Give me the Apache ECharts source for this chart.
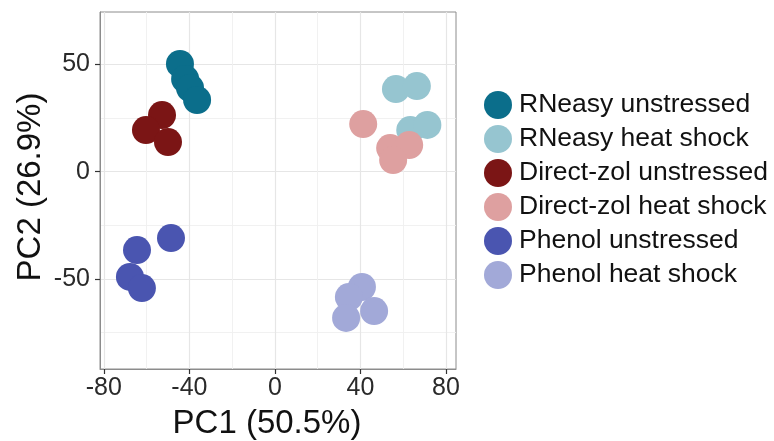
<!DOCTYPE html>
<html><head><meta charset="utf-8">
<script src="https://cdn.jsdelivr.net/npm/echarts@6/dist/echarts.min.js"></script>
<style>html,body{margin:0;padding:0;background:#fff}#c{width:774px;height:441px}</style>
</head><body><div id="c"></div>
<script>
const seriesNames = ["RNeasy unstressed","RNeasy heat shock","Direct-zol unstressed","Direct-zol heat shock","Phenol unstressed","Phenol heat shock"];
const seriesColors = ["#0b6e8b","#96c5d0","#7b1515","#dea0a0","#4a55b0","#a2a9d8"];
const rneasyUnstressed = [[-44.4,50.2],[-42.0,43.2],[-39.7,39.0],[-36.4,33.4]];
const rneasyHeat = [[56.6,38.5],[66.4,39.9],[63.3,19.4],[71.3,21.8]];
const directzolUnstressed = [[-52.8,26.4],[-60.3,19.4],[-50.0,13.8]];
const directzolHeat = [[41.3,22.2],[53.9,11.0],[62.8,12.4],[55.3,5.4]];
const phenolUnstressed = [[-48.6,-30.9],[-64.5,-36.5],[-67.8,-49.0],[-62.2,-54.2]];
const phenolHeat = [[40.7,-53.7],[34.6,-58.4],[46.4,-64.9],[33.3,-68.1]];
const xTicks = [-80,-40,0,40,80];
const xMinor = [-60,-20,20,60];
const yTicks = [-50,0,50];
const yMinor = [-75,-25,25];
const xRange = [-81.8,84.7];
const yRange = [-91.9,74.4];
const xTitle = "PC1 (50.5%)";
const yTitle = "PC2 (26.9%)";

const allData = [rneasyUnstressed,rneasyHeat,directzolUnstressed,directzolHeat,phenolUnstressed,phenolHeat];
const chart = echarts.init(document.getElementById('c'));
const font = "'Liberation Sans', Arial, Helvetica, sans-serif";
const grid = {left:100, top:12, width:356, height:357, show:true, borderColor:'#8c8c8c', borderWidth:1, backgroundColor:'#fff'};
function mainAxis(range, ticks, isX){
  return {
    type:'value', min:range[0], max:range[1], gridIndex:0,
    axisLine:{show:true, onZero:false, lineStyle:{color:'#8c8c8c', width:1}},
    axisTick:{show:true, inside:false, customValues:ticks, length:5, lineStyle:{color:'#333', width:1.2}},
    axisLabel:{show:true, customValues:ticks, fontSize:25, color:'#2a2a2a', fontFamily:font, margin: isX?7:10, lineHeight:25},
    splitLine:{show:true, lineStyle:{color:'#e6e6e6', width:1.2}},
    minorSplitLine:{show:false}
  };
}
function minorAxis(range, ticks){
  return {
    type:'value', min:range[0], max:range[1], gridIndex:0,
    axisLine:{show:false, onZero:false},
    axisTick:{show:false, customValues:ticks},
    axisLabel:{show:false},
    splitLine:{show:true, lineStyle:{color:'#efefef', width:0.9}}
  };
}
const series = allData.map((d,i)=>({
  name: seriesNames[i], type:'scatter', data:d, symbol:'circle', symbolSize:28,
  xAxisIndex:0, yAxisIndex:0,
  itemStyle:{color:seriesColors[i], opacity:1}, emphasis:{disabled:true}
}));
chart.setOption({
  animation:false,
  grid:[grid],
  xAxis:[mainAxis(xRange,xTicks,true), minorAxis(xRange,xMinor)],
  yAxis:[mainAxis(yRange,yTicks,false), minorAxis(yRange,yMinor)],
  legend:{
    orient:'vertical', left:479, top:86, itemWidth:28, itemHeight:28, itemGap:6,
    icon:'circle', data:seriesNames,
    textStyle:{fontSize:26.5, color:'#111', fontFamily:font, padding:[0,0,0,2]}
  },
  graphic:[
    {type:'text', x:267, y:424, style:{text:xTitle, x:0, y:0, fill:'#111', font:"33px 'Liberation Sans', Arial, sans-serif", textAlign:'center', textVerticalAlign:'middle'}},
    {type:'text', rotation:Math.PI/2, x:31, y:187, style:{text:yTitle, x:0, y:0, fill:'#111', font:"33px 'Liberation Sans', Arial, sans-serif", textAlign:'center', textVerticalAlign:'middle'}}
  ],
  series: series
});
</script></body></html>
